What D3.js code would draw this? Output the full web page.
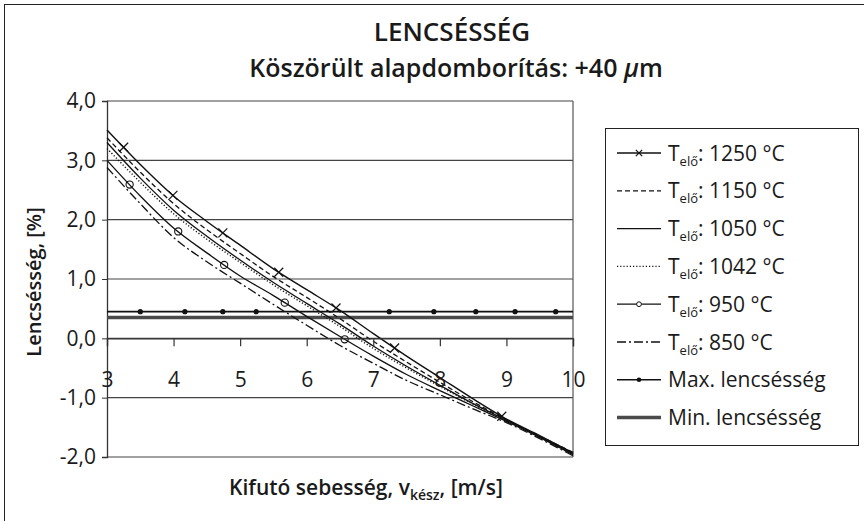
<!DOCTYPE html>
<html><head><meta charset="utf-8">
<script src="https://cdn.jsdelivr.net/npm/d3@7"></script>
<style>
body{margin:0;background:#fff}
text{font-family:"Open Sans",sans-serif;fill:#1a1a1a}
</style></head>
<body>
<svg id="chart" width="864" height="521"></svg>
<script>
// ---- data ----
const xValues = [3, 3.5, 4, 4.5, 5, 5.5, 6, 6.5, 7, 7.5, 8, 8.5, 9, 9.5, 10];
const t1250 = [3.51, 2.93, 2.40, 1.97, 1.57, 1.17, 0.82, 0.47, 0.08, -0.30, -0.66, -1.02, -1.36, -1.64, -1.93];
const t1150 = [3.38, 2.80, 2.27, 1.83, 1.43, 1.04, 0.69, 0.33, -0.05, -0.40, -0.74, -1.07, -1.37, -1.65, -1.92];
const t1050 = [3.30, 2.70, 2.16, 1.72, 1.32, 0.94, 0.59, 0.24, -0.13, -0.47, -0.79, -1.10, -1.38, -1.66, -1.94];
const t1042 = [3.20, 2.63, 2.10, 1.67, 1.28, 0.90, 0.55, 0.20, -0.17, -0.50, -0.81, -1.11, -1.39, -1.67, -1.95];
const t950  = [3.00, 2.40, 1.86, 1.44, 1.05, 0.72, 0.37, 0.03, -0.30, -0.61, -0.88, -1.14, -1.40, -1.67, -1.96];
const t850  = [2.88, 2.27, 1.70, 1.29, 0.93, 0.57, 0.22, -0.12, -0.42, -0.71, -0.95, -1.19, -1.42, -1.69, -1.98];
const markerX1250 = [3.25, 3.99, 4.74, 5.58, 6.44, 7.32, 8.93];
const markerX950 = [3.34, 4.07, 4.76, 5.67, 6.57];
const maxLevel = 0.45;
const minLevel = 0.35;
const maxDotX = [3.5, 4.17, 4.74, 5.24, 7.24, 7.91, 8.54, 9.13, 9.74];
const seriesTemps = ["1250", "1150", "1050", "1042", "950", "850"];
const xTicks = [3, 4, 5, 6, 7, 8, 9, 10];
const yTicks = [-2, -1, 0, 1, 2, 3, 4];
const titleText = "LENCSÉSSÉG";
const subtitleText = "Köszörült alapdomborítás: +40 ";
const yTitle = "Lencsésség, [%]";
const legendMax = "Max. lencsésség";
const legendMin = "Min. lencsésség";

// ---- layout ----
const svg = d3.select("#chart");
const L = 107, R = 573, T = 101, B = 457;
const x = d3.scaleLinear().domain([3, 10]).range([L, R]);
const y = d3.scaleLinear().domain([-2, 4]).range([B, T]);

// outer border (top & left visible)
svg.append("rect").attr("x", 4.5).attr("y", 4.5).attr("width", 870).attr("height", 530)
  .attr("fill", "none").attr("stroke", "#222").attr("stroke-width", 1);

// titles
svg.append("text").attr("x", 452).attr("y", 41).attr("text-anchor", "middle")
  .attr("font-size", 26).attr("font-weight", 600).text(titleText);
const st = svg.append("text").attr("x", 456).attr("y", 77).attr("text-anchor", "middle")
  .attr("font-size", 25).attr("font-weight", 600);
st.append("tspan").text(subtitleText);
st.append("tspan").attr("font-style", "italic").text("µ");
st.append("tspan").text("m");

// gridlines
svg.append("g").selectAll("line").data(yTicks).join("line")
  .attr("x1", L).attr("x2", R).attr("y1", d => y(d)).attr("y2", d => y(d))
  .attr("stroke", "#444").attr("stroke-width", 1.2);
// plot border
svg.append("line").attr("x1", R).attr("x2", R).attr("y1", T).attr("y2", B)
  .attr("stroke", "#555").attr("stroke-width", 1.2);

// y axis
const yAxis = svg.append("g").attr("transform", `translate(${L},0)`)
  .call(d3.axisLeft(y).tickValues(yTicks).tickSize(5).tickPadding(6)
    .tickFormat(d => d3.format(".1f")(d).replace(".", ",").replace("−", "-")));
yAxis.select(".domain").attr("stroke", "#333").attr("stroke-width", 1.3);
yAxis.selectAll(".tick line").attr("stroke", "#333");
yAxis.selectAll("text").attr("font-size", 21).attr("fill", "#1a1a1a").attr("font-family", "Open Sans");

// min / max lines
svg.append("line").attr("x1", x(3)).attr("x2", x(10)).attr("y1", y(minLevel)).attr("y2", y(minLevel))
  .attr("stroke", "#4a4a4a").attr("stroke-width", 3.5);
svg.append("line").attr("x1", x(3)).attr("x2", x(10)).attr("y1", y(maxLevel)).attr("y2", y(maxLevel))
  .attr("stroke", "#111").attr("stroke-width", 1.6);
svg.append("g").selectAll("circle").data(maxDotX).join("circle")
  .attr("cx", d => x(d)).attr("cy", y(maxLevel)).attr("r", 2.6).attr("fill", "#111");

// series
const styles = {
  "1250": {dash: null, w: 1.4},
  "1150": {dash: "5,3", w: 1.3},
  "1050": {dash: null, w: 1.3},
  "1042": {dash: "1.2,2", w: 1.4},
  "950":  {dash: null, w: 1.3},
  "850":  {dash: "9,3,2,3", w: 1.3}
};
const seriesData = {"1250": t1250, "1150": t1150, "1050": t1050, "1042": t1042, "950": t950, "850": t850};
const line = d3.line().x((d, i) => x(xValues[i])).y(d => y(d)).curve(d3.curveMonotoneX);
seriesTemps.forEach(k => {
  svg.append("path").datum(seriesData[k]).attr("d", line)
    .attr("fill", "none").attr("stroke", "#111").attr("stroke-width", styles[k].w)
    .attr("stroke-dasharray", styles[k].dash);
});
const interp = arr => d3.scaleLinear().domain(xValues).range(arr);
const f1250 = interp(t1250), f950 = interp(t950);
function crossMark(g, cx, cy, s) {
  g.append("path").attr("d", `M${cx - s},${cy - s}L${cx + s},${cy + s}M${cx - s},${cy + s}L${cx + s},${cy - s}`)
    .attr("stroke", "#111").attr("stroke-width", 1.2).attr("fill", "none");
}
const mk = svg.append("g");
markerX1250.forEach(v => crossMark(mk, x(v), y(f1250(v)), 4.5));
mk.selectAll("circle").data(markerX950).join("circle")
  .attr("cx", d => x(d)).attr("cy", d => y(f950(d))).attr("r", 3.6)
  .attr("fill", "none").attr("stroke", "#111").attr("stroke-width", 1.1);

// x axis at y=0
const xAxis = svg.append("g").attr("transform", `translate(0,${y(0)})`)
  .call(d3.axisBottom(x).tickValues(xTicks).tickSize(8).tickPadding(26).tickFormat(d3.format("d")));
xAxis.select(".domain").attr("stroke", "#333").attr("stroke-width", 1.3);
xAxis.selectAll(".tick line").attr("stroke", "#333").attr("stroke-width", 1.2);
xAxis.selectAll("text").attr("font-size", 21).attr("fill", "#1a1a1a").attr("font-family", "Open Sans");

// y title
svg.append("text").attr("transform", "translate(41,282) rotate(-90)").attr("text-anchor", "middle")
  .attr("font-size", 20).attr("font-weight", 600).text(yTitle);

// x title
const xt = svg.append("text").attr("x", 366).attr("y", 495).attr("text-anchor", "middle")
  .attr("font-size", 21).attr("font-weight", 600);
xt.append("tspan").text("Kifutó sebesség, v");
xt.append("tspan").attr("font-size", 14).attr("dy", 5).text("kész");
xt.append("tspan").attr("dy", -5).text(", [m/s]");

// legend
const lg = svg.append("g");
lg.append("rect").attr("x", 605.5).attr("y", 128.5).attr("width", 253).attr("height", 317)
  .attr("fill", "#fff").attr("stroke", "#222").attr("stroke-width", 1);
const legendItems = seriesTemps.map(k => ({key: k})).concat([{key: "max"}, {key: "min"}]);
legendItems.forEach((it, i) => {
  const cy = 153 + i * 37.8;
  const g = lg.append("g");
  if (it.key === "min") {
    g.append("line").attr("x1", 617).attr("x2", 661).attr("y1", cy).attr("y2", cy)
      .attr("stroke", "#4a4a4a").attr("stroke-width", 3.5);
  } else if (it.key === "max") {
    g.append("line").attr("x1", 617).attr("x2", 661).attr("y1", cy).attr("y2", cy)
      .attr("stroke", "#111").attr("stroke-width", 1.4);
    g.append("circle").attr("cx", 639).attr("cy", cy).attr("r", 2.3).attr("fill", "#111");
  } else {
    g.append("line").attr("x1", 617).attr("x2", 661).attr("y1", cy).attr("y2", cy)
      .attr("stroke", "#111").attr("stroke-width", styles[it.key].w)
      .attr("stroke-dasharray", styles[it.key].dash);
    if (it.key === "1250") crossMark(g, 639, cy, 3.2);
    if (it.key === "950") g.append("circle").attr("cx", 639).attr("cy", cy).attr("r", 2.4)
      .attr("fill", "#fff").attr("stroke", "#111").attr("stroke-width", 1);
  }
  const t = g.append("text").attr("x", 668).attr("y", cy + 7.5).attr("font-size", 21);
  if (it.key === "max") t.text(legendMax);
  else if (it.key === "min") t.text(legendMin);
  else {
    t.append("tspan").text("T");
    t.append("tspan").attr("font-size", 13).attr("dy", 5).text("elő");
    t.append("tspan").attr("dy", -5).text(": " + it.key + " °C");
  }
});
</script>
</body></html>
